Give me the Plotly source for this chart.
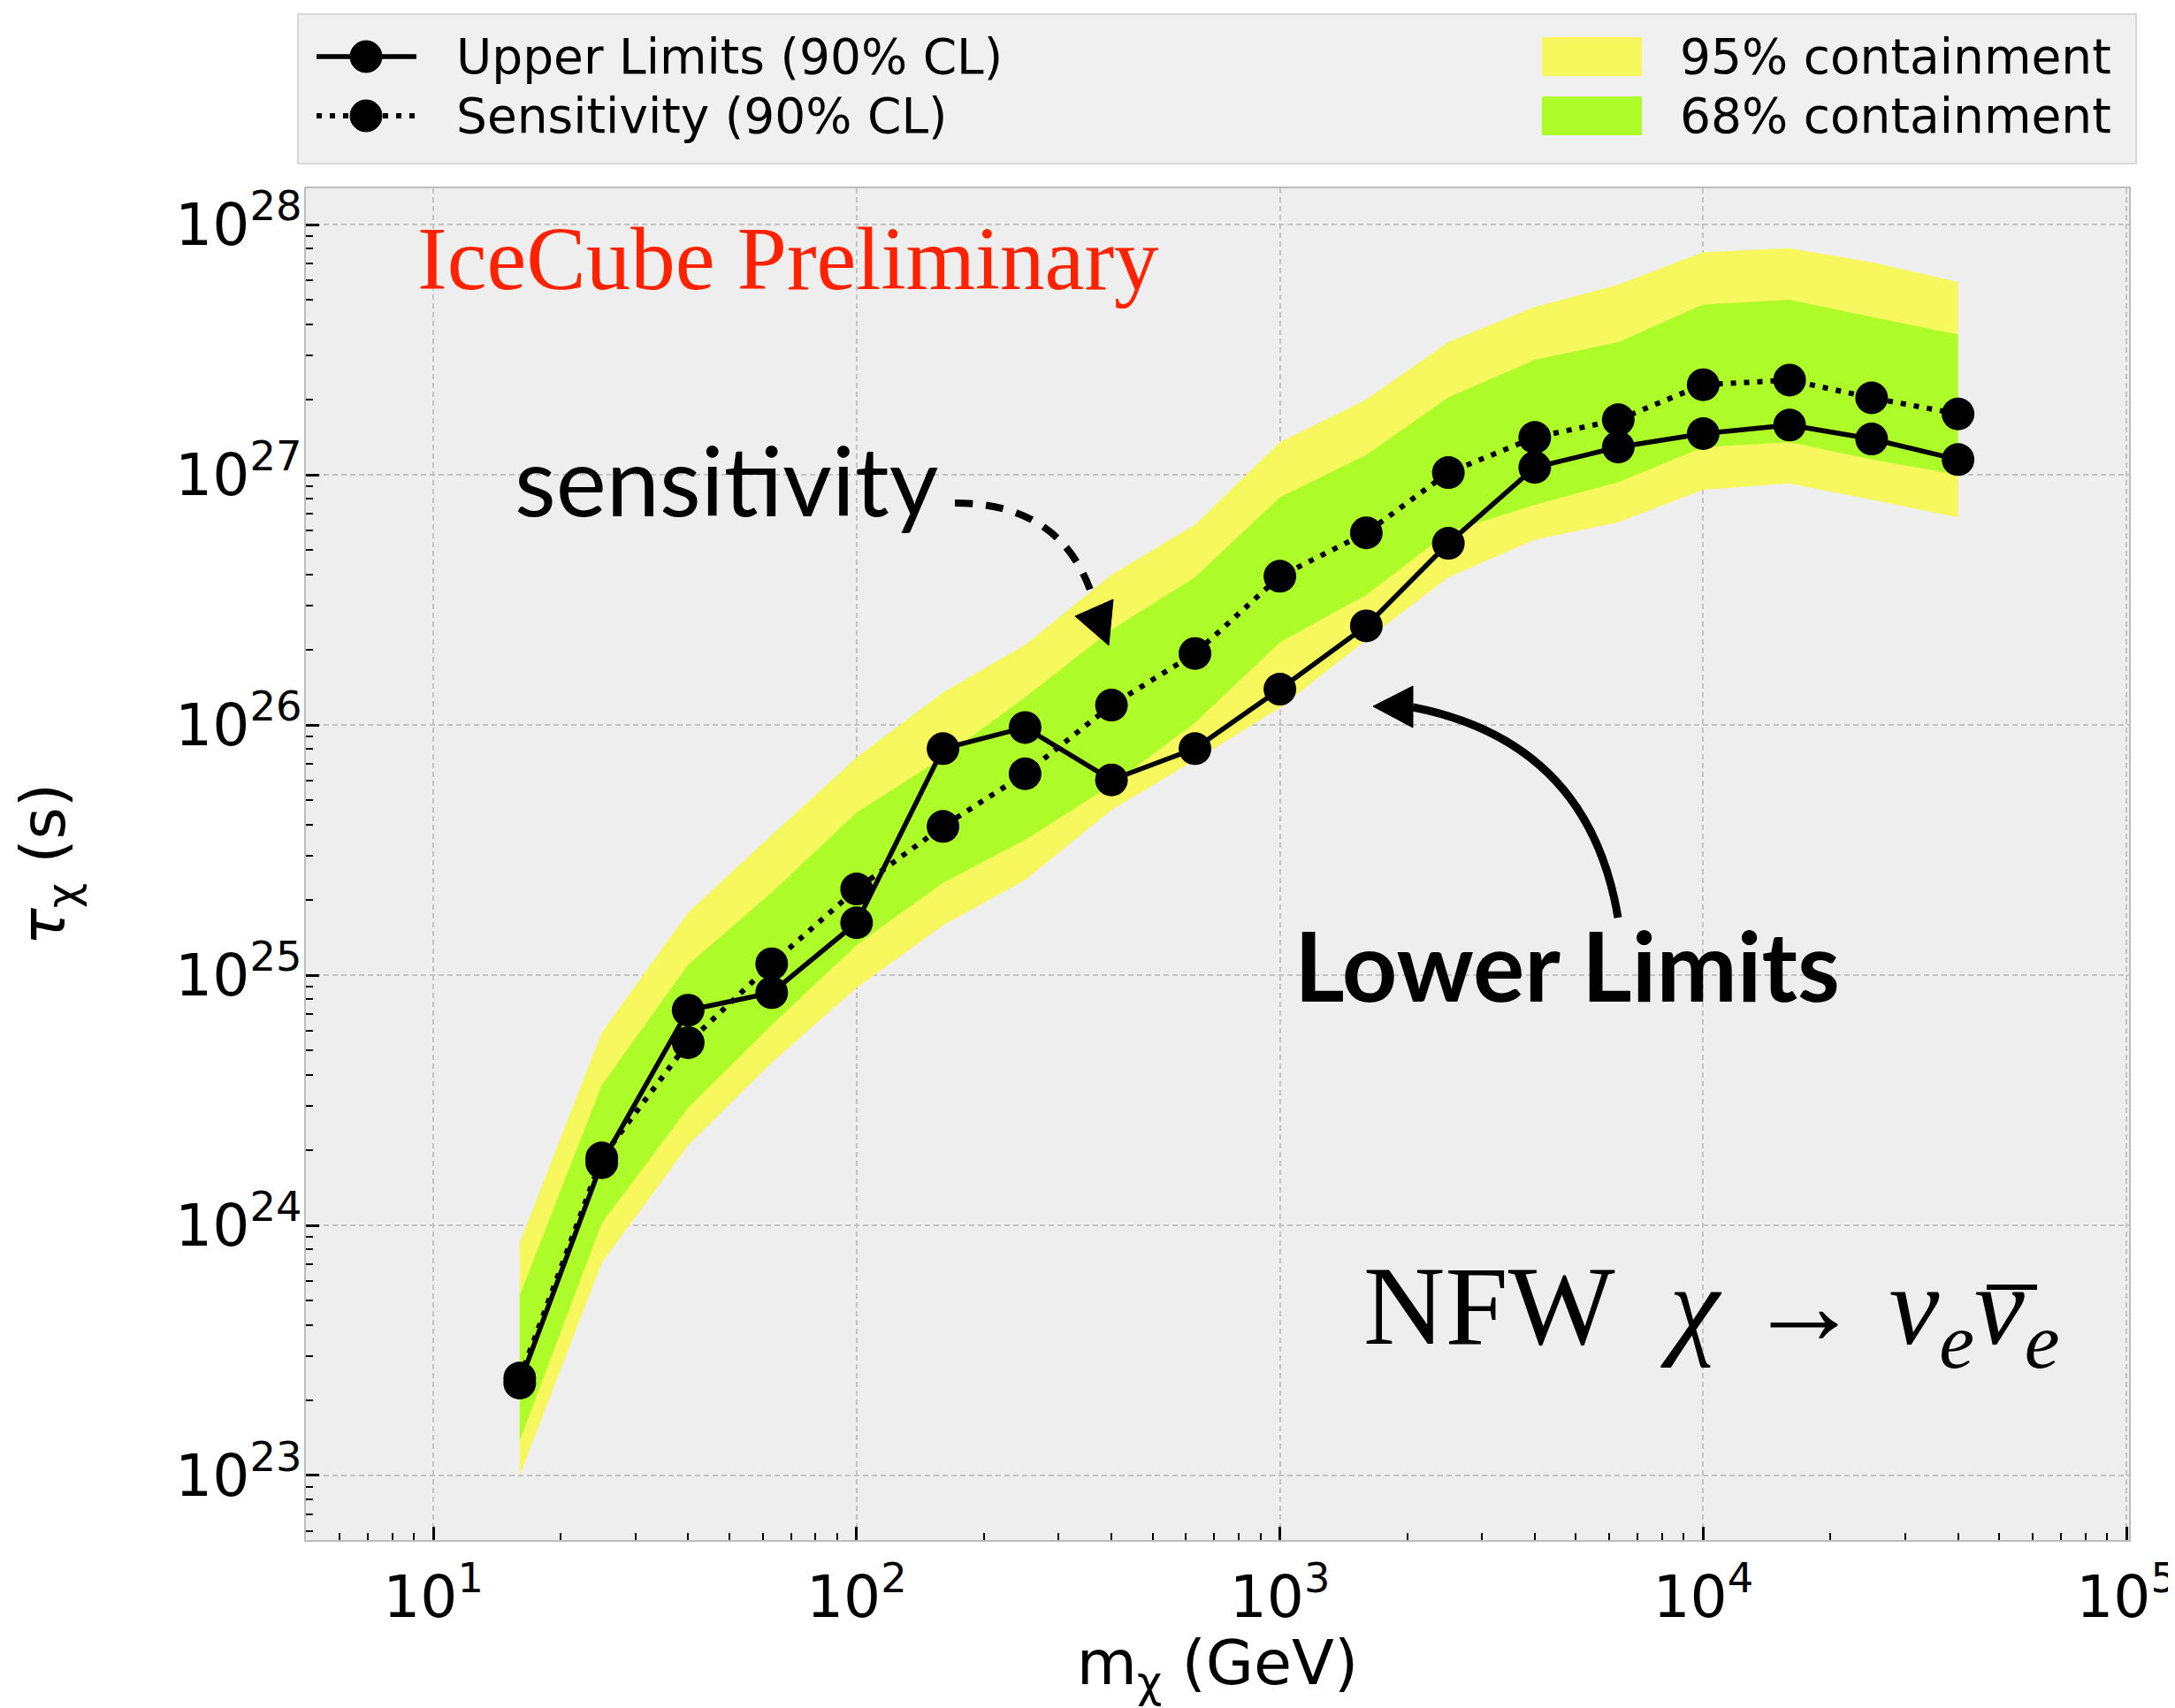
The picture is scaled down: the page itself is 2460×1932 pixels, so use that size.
import plotly.graph_objects as go

# ---- data ----
mass = [16, 25, 40, 63, 100, 160, 250, 400, 630, 1000, 1600, 2500, 4000, 6300,
        10000, 16000, 25000, 40000]
upper_limits = [2.34e23, 1.78e24, 7.24e24, 8.51e24, 1.62e25, 8.04e25, 9.77e25, 6.03e25,
                8.04e25, 1.39e26, 2.49e26, 5.32e26, 1.07e27, 1.29e27, 1.46e27, 1.58e27,
                1.39e27, 1.15e27]
sensitivity = [2.45e23, 1.86e24, 5.37e24, 1.11e25, 2.21e25, 3.93e25, 6.38e25, 1.20e26,
               1.93e26, 3.93e26, 5.86e26, 1.02e27, 1.41e27, 1.66e27, 2.29e27, 2.39e27,
               2.03e27, 1.75e27]
band95_hi = [8.51e23, 5.89e24, 1.78e25, 3.63e25, 7.41e25, 1.35e26, 2.09e26, 3.98e26,
             6.31e26, 1.35e27, 2.00e27, 3.39e27, 4.68e27, 5.75e27, 7.76e27, 8.04e27,
             7.08e27, 5.89e27]
band68_hi = [5.25e23, 3.63e24, 1.10e25, 2.14e25, 4.47e25, 7.41e25, 1.29e26, 2.40e26,
             3.89e26, 8.13e26, 1.20e27, 2.04e27, 2.88e27, 3.39e27, 4.79e27, 5.01e27,
             4.27e27, 3.63e27]
band68_lo = [1.38e23, 1.02e24, 2.95e24, 6.31e24, 1.32e25, 2.34e25, 3.47e25, 5.75e25,
             1.02e26, 2.14e26, 3.31e26, 5.89e26, 7.59e26, 9.33e26, 1.29e27, 1.35e27,
             1.15e27, 1.00e27]
band95_lo = [1.00e23, 7.08e23, 2.09e24, 4.47e24, 8.91e24, 1.58e25, 2.40e25, 4.57e25,
             7.24e25, 1.17e26, 2.19e26, 3.89e26, 5.50e26, 6.46e26, 8.71e26, 9.23e26,
             7.94e26, 6.76e26]

# tick label for 10^1 (Plotly prints it as plain "10")
x_label_alias = {"10": "10<sup>1</sup>"}

legend_lines = ["Upper Limits (90% CL)", "Sensitivity (90% CL)"]
legend_bands = ["95% containment", "68% containment"]

YELLOW = "#f7f75e"
GREEN = "#aefb2a"
SANS = "DejaVu Sans"
SERIF = "Liberation Serif"

fig = go.Figure()

# 95% band
fig.add_trace(go.Scatter(x=mass, y=band95_lo, mode="lines", line=dict(width=0),
                         showlegend=False, hoverinfo="skip"))
fig.add_trace(go.Scatter(x=mass, y=band95_hi, mode="lines", line=dict(width=0),
                         fill="tonexty", fillcolor=YELLOW, name=legend_bands[0],
                         showlegend=False))
# 68% band
fig.add_trace(go.Scatter(x=mass, y=band68_lo, mode="lines", line=dict(width=0),
                         showlegend=False, hoverinfo="skip"))
fig.add_trace(go.Scatter(x=mass, y=band68_hi, mode="lines", line=dict(width=0),
                         fill="tonexty", fillcolor=GREEN, name=legend_bands[1],
                         showlegend=False))

# lines
fig.add_trace(go.Scatter(x=mass, y=upper_limits, mode="lines+markers",
                         line=dict(color="black", width=5.5),
                         marker=dict(color="black", size=37),
                         name=legend_lines[0], showlegend=False))
fig.add_trace(go.Scatter(x=mass, y=sensitivity, mode="lines+markers",
                         line=dict(color="black", width=6, dash="6px,9px"),
                         marker=dict(color="black", size=37),
                         name=legend_lines[1], showlegend=False))

# ---- geometry (figure px; page has an 8px body margin) ----
O = 8
W, H = 2452, 1924
L, R, T, B = 338, 2400, 205, 1734


def px(X):
    return (X - O - L) / (R - L)


def py(Y):
    return (B - (Y - O)) / (B - T)


shapes = []
annotations = []

# ---- legend (boxed key above the plot) ----
shapes.append(dict(type="rect", xref="paper", yref="paper",
                   x0=px(337), x1=px(2416), y0=py(185), y1=py(16),
                   fillcolor="#f0f0f0", line=dict(color="#d8d8d8", width=2),
                   layer="below"))
row_y = [64, 131]
line_dash = ["solid", "6px,9px"]
for i in range(2):
    yy = row_y[i]
    shapes.append(dict(type="line", xref="paper", yref="paper",
                       x0=px(358), x1=px(471), y0=py(yy), y1=py(yy),
                       line=dict(color="black", width=5.5 if i == 0 else 6,
                                 dash=line_dash[i])))
    shapes.append(dict(type="circle", xref="paper", yref="paper",
                       x0=px(414 - 18), x1=px(414 + 18), y0=py(yy + 18), y1=py(yy - 18),
                       fillcolor="black", line=dict(color="black", width=1)))
    annotations.append(dict(text=legend_lines[i], x=px(514), y=py(yy),
                            xref="paper", yref="paper", xanchor="left", yanchor="middle",
                            showarrow=False, font=dict(family=SANS, size=55, color="black")))
band_cols = [YELLOW, GREEN]
for i in range(2):
    yy = row_y[i]
    shapes.append(dict(type="rect", xref="paper", yref="paper",
                       x0=px(1744), x1=px(1857), y0=py(yy + 22), y1=py(yy - 22),
                       fillcolor=band_cols[i], line=dict(width=0)))
    annotations.append(dict(text=legend_bands[i], x=px(1898), y=py(yy),
                            xref="paper", yref="paper", xanchor="left", yanchor="middle",
                            showarrow=False, font=dict(family=SANS, size=55, color="black")))


def qpath(p0, c, p1):
    return "M {:.5f},{:.5f} Q {:.5f},{:.5f} {:.5f},{:.5f}".format(
        px(p0[0]), py(p0[1]), px(c[0]), py(c[1]), px(p1[0]), py(p1[1]))


def tri(a, b, c):
    return "M {:.5f},{:.5f} L {:.5f},{:.5f} L {:.5f},{:.5f} Z".format(
        px(a[0]), py(a[1]), px(b[0]), py(b[1]), px(c[0]), py(c[1]))


# dashed arrow (sensitivity)
shapes.append(dict(type="path", xref="paper", yref="paper",
                   path=qpath((1080, 569), (1202, 569), (1236, 676)),
                   line=dict(color="black", width=8, dash="20px,15px"), layer="above"))
shapes.append(dict(type="path", xref="paper", yref="paper",
                   path=tri((1216, 697), (1259, 678), (1254, 730)),
                   fillcolor="black", line=dict(color="black", width=1), layer="above"))
# solid arrow (lower limits)
shapes.append(dict(type="path", xref="paper", yref="paper",
                   path=qpath((1830, 1038), (1797, 839), (1598, 800)),
                   line=dict(color="black", width=9), layer="above"))
shapes.append(dict(type="path", xref="paper", yref="paper",
                   path=tri((1553, 799), (1598, 776), (1598, 823)),
                   fillcolor="black", line=dict(color="black", width=1), layer="above"))
# bar over the second nu
shapes.append(dict(type="line", xref="paper", yref="paper",
                   x0=px(2247), x1=px(2304), y0=py(1456), y1=py(1456),
                   line=dict(color="black", width=6), layer="above"))

annotations += [
    dict(text="IceCube Preliminary", x=px(470), y=py(293), xref="paper", yref="paper",
         xanchor="left", yanchor="middle", showarrow=False,
         font=dict(family=SERIF, size=101, color="#ff2200")),
    dict(text="sensitivity", x=px(580), y=py(542), xref="paper", yref="paper",
         xanchor="left", yanchor="middle", showarrow=False,
         font=dict(family="Lato", size=108, color="black")),
    dict(text="<b>Lower Limits</b>", x=px(1462), y=py(1090), xref="paper", yref="paper",
         xanchor="left", yanchor="middle", showarrow=False,
         font=dict(family="Lato", size=109, color="black")),
    dict(text="NFW  <i>χ</i> → <i>ν<sub>e</sub>ν<sub>e</sub></i>",
         x=px(1540), y=py(1486), xref="paper", yref="paper",
         xanchor="left", yanchor="middle", showarrow=False,
         font=dict(family=SERIF, size=128, color="black")),
]

fig.update_layout(
    width=W, height=H,
    margin=dict(l=L, r=W - R, t=T, b=H - B, autoexpand=False),
    paper_bgcolor="white",
    plot_bgcolor="#eeeeee",
    shapes=shapes,
    annotations=annotations,
    font=dict(family=SANS, size=53, color="black"),
    showlegend=False,
)

fig.update_xaxes(
    type="log", range=[0.69897, 5.006], dtick=1, exponentformat="power",
    labelalias=x_label_alias, ticklabeloverflow="allow",
    showgrid=True, gridcolor="#c4c4c4", gridwidth=1.5, griddash="6px,4px",
    ticks="inside", ticklen=15, tickwidth=3, tickcolor="black",
    minor=dict(ticks="inside", ticklen=8, tickwidth=2, tickcolor="black", showgrid=False),
    showline=True, linecolor="#bcbcbc", linewidth=2, mirror=True,
    tickfont=dict(family=SANS, size=53), ticklabelstandoff=8,
    title=dict(text="m<sub>χ</sub> (GeV)", font=dict(family=SANS, size=70), standoff=44),
    zeroline=False, automargin=False,
)
fig.update_yaxes(
    type="log", range=[22.742, 28.145], dtick=1, exponentformat="power",
    showgrid=True, gridcolor="#c4c4c4", gridwidth=1.5, griddash="6px,4px",
    ticks="inside", ticklen=15, tickwidth=3, tickcolor="black",
    minor=dict(ticks="inside", ticklen=8, tickwidth=2, tickcolor="black", showgrid=False),
    showline=True, linecolor="#bcbcbc", linewidth=2, mirror=True,
    tickfont=dict(family=SANS, size=53), ticklabelstandoff=-8,
    title=dict(text="<i>τ</i><sub>χ</sub> (s)", font=dict(family=SANS, size=70), standoff=110),
    zeroline=False, automargin=False,
)

fig.write_html("out.html")
